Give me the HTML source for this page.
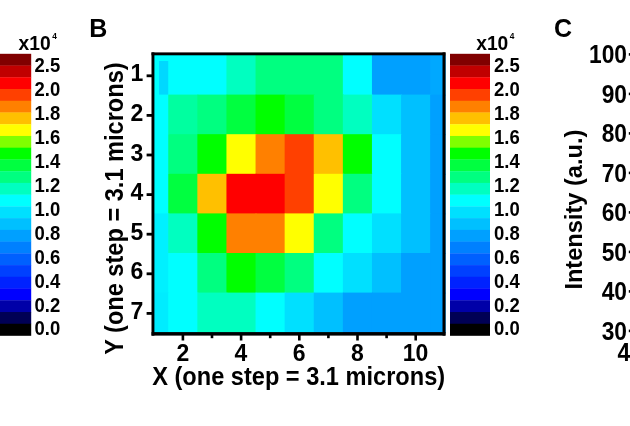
<!DOCTYPE html>
<html><head><meta charset="utf-8"><title>Figure</title>
<style>
html,body{margin:0;padding:0;background:#fff;}
body{width:630px;height:426px;overflow:hidden;}
svg{display:block;}
text{font-family:"Liberation Sans",Arial,Helvetica,sans-serif;font-weight:bold;fill:#000;}
.cb{font-size:18.5px;}
.tk{font-size:23px;}
.tc{font-size:23.6px;}
.ax{font-size:23.6px;}
.pn{font-size:25px;}
.sup{font-size:8px;}
</style></head><body>
<svg width="630" height="426" viewBox="0 0 630 426">
<defs><filter id="bl" filterUnits="userSpaceOnUse" x="-40" y="-40" width="710" height="506"><feGaussianBlur stdDeviation="0.55"/></filter></defs>
<rect x="-40" y="-40" width="710" height="506" fill="#fff"/>
<g filter="url(#bl)">
<rect x="-40" y="-40" width="710" height="506" fill="#fff"/>
<g id="cbL">
<rect x="-9" y="53.80" width="40.2" height="12.04" fill="#800000"/>
<rect x="-9" y="65.54" width="40.2" height="12.04" fill="#c00000"/>
<rect x="-9" y="77.27" width="40.2" height="12.04" fill="#ff0000"/>
<rect x="-9" y="89.01" width="40.2" height="12.04" fill="#ff4000"/>
<rect x="-9" y="100.75" width="40.2" height="12.04" fill="#ff8000"/>
<rect x="-9" y="112.49" width="40.2" height="12.04" fill="#ffc000"/>
<rect x="-9" y="124.22" width="40.2" height="12.04" fill="#ffff00"/>
<rect x="-9" y="135.96" width="40.2" height="12.04" fill="#80ff00"/>
<rect x="-9" y="147.70" width="40.2" height="12.04" fill="#00ff00"/>
<rect x="-9" y="159.44" width="40.2" height="12.04" fill="#00ff40"/>
<rect x="-9" y="171.17" width="40.2" height="12.04" fill="#00ff80"/>
<rect x="-9" y="182.91" width="40.2" height="12.04" fill="#00ffc0"/>
<rect x="-9" y="194.65" width="40.2" height="12.04" fill="#00ffff"/>
<rect x="-9" y="206.39" width="40.2" height="12.04" fill="#00e0ff"/>
<rect x="-9" y="218.12" width="40.2" height="12.04" fill="#00c0ff"/>
<rect x="-9" y="229.86" width="40.2" height="12.04" fill="#00a0ff"/>
<rect x="-9" y="241.60" width="40.2" height="12.04" fill="#0080ff"/>
<rect x="-9" y="253.34" width="40.2" height="12.04" fill="#0060ff"/>
<rect x="-9" y="265.07" width="40.2" height="12.04" fill="#0040ff"/>
<rect x="-9" y="276.81" width="40.2" height="12.04" fill="#0020ff"/>
<rect x="-9" y="288.55" width="40.2" height="12.04" fill="#0000ff"/>
<rect x="-9" y="300.29" width="40.2" height="12.04" fill="#0000a8"/>
<rect x="-9" y="312.02" width="40.2" height="12.04" fill="#000055"/>
<rect x="-9" y="323.76" width="40.2" height="12.04" fill="#000000"/>
<text transform="translate(34.5,72.00) scale(1,1.13)" class="cb">2.5</text>
<text transform="translate(34.5,95.95) scale(1,1.13)" class="cb">2.0</text>
<text transform="translate(34.5,119.90) scale(1,1.13)" class="cb">1.8</text>
<text transform="translate(34.5,143.85) scale(1,1.13)" class="cb">1.6</text>
<text transform="translate(34.5,167.80) scale(1,1.13)" class="cb">1.4</text>
<text transform="translate(34.5,191.75) scale(1,1.13)" class="cb">1.2</text>
<text transform="translate(34.5,215.70) scale(1,1.13)" class="cb">1.0</text>
<text transform="translate(34.5,239.65) scale(1,1.13)" class="cb">0.8</text>
<text transform="translate(34.5,263.60) scale(1,1.13)" class="cb">0.6</text>
<text transform="translate(34.5,287.55) scale(1,1.13)" class="cb">0.4</text>
<text transform="translate(34.5,311.50) scale(1,1.13)" class="cb">0.2</text>
<text transform="translate(34.5,335.45) scale(1,1.13)" class="cb">0.0</text>
<text transform="translate(18.6,50.4) scale(1.04,1.09)" class="cb">x10<tspan class="sup" dx="1.5" dy="-10.5">4</tspan></text>
</g>
<g id="cbR">
<rect x="450" y="53.80" width="40" height="12.04" fill="#800000"/>
<rect x="450" y="65.54" width="40" height="12.04" fill="#c00000"/>
<rect x="450" y="77.27" width="40" height="12.04" fill="#ff0000"/>
<rect x="450" y="89.01" width="40" height="12.04" fill="#ff4000"/>
<rect x="450" y="100.75" width="40" height="12.04" fill="#ff8000"/>
<rect x="450" y="112.49" width="40" height="12.04" fill="#ffc000"/>
<rect x="450" y="124.22" width="40" height="12.04" fill="#ffff00"/>
<rect x="450" y="135.96" width="40" height="12.04" fill="#80ff00"/>
<rect x="450" y="147.70" width="40" height="12.04" fill="#00ff00"/>
<rect x="450" y="159.44" width="40" height="12.04" fill="#00ff40"/>
<rect x="450" y="171.17" width="40" height="12.04" fill="#00ff80"/>
<rect x="450" y="182.91" width="40" height="12.04" fill="#00ffc0"/>
<rect x="450" y="194.65" width="40" height="12.04" fill="#00ffff"/>
<rect x="450" y="206.39" width="40" height="12.04" fill="#00e0ff"/>
<rect x="450" y="218.12" width="40" height="12.04" fill="#00c0ff"/>
<rect x="450" y="229.86" width="40" height="12.04" fill="#00a0ff"/>
<rect x="450" y="241.60" width="40" height="12.04" fill="#0080ff"/>
<rect x="450" y="253.34" width="40" height="12.04" fill="#0060ff"/>
<rect x="450" y="265.07" width="40" height="12.04" fill="#0040ff"/>
<rect x="450" y="276.81" width="40" height="12.04" fill="#0020ff"/>
<rect x="450" y="288.55" width="40" height="12.04" fill="#0000ff"/>
<rect x="450" y="300.29" width="40" height="12.04" fill="#0000a8"/>
<rect x="450" y="312.02" width="40" height="12.04" fill="#000055"/>
<rect x="450" y="323.76" width="40" height="12.04" fill="#000000"/>
<text transform="translate(494,72.00) scale(1,1.13)" class="cb">2.5</text>
<text transform="translate(494,95.95) scale(1,1.13)" class="cb">2.0</text>
<text transform="translate(494,119.90) scale(1,1.13)" class="cb">1.8</text>
<text transform="translate(494,143.85) scale(1,1.13)" class="cb">1.6</text>
<text transform="translate(494,167.80) scale(1,1.13)" class="cb">1.4</text>
<text transform="translate(494,191.75) scale(1,1.13)" class="cb">1.2</text>
<text transform="translate(494,215.70) scale(1,1.13)" class="cb">1.0</text>
<text transform="translate(494,239.65) scale(1,1.13)" class="cb">0.8</text>
<text transform="translate(494,263.60) scale(1,1.13)" class="cb">0.6</text>
<text transform="translate(494,287.55) scale(1,1.13)" class="cb">0.4</text>
<text transform="translate(494,311.50) scale(1,1.13)" class="cb">0.2</text>
<text transform="translate(494,335.45) scale(1,1.13)" class="cb">0.0</text>
<text transform="translate(476.2,50.1) scale(1.04,1.09)" class="cb">x10<tspan class="sup" dx="1.5" dy="-10.5">4</tspan></text>
</g>
<text x="89.3" y="37.2" class="pn">B</text>
<text x="554" y="37.3" class="pn">C</text>
<g id="heat">
<rect x="153.7" y="55.0" width="291.00" height="277.20" fill="#00ffff"/>
<rect x="159.00" y="61.00" width="10.25" height="34.60" fill="#00d8ff"/>
<rect x="168.25" y="55.00" width="30.10" height="40.60" fill="#00ffff"/>
<rect x="197.35" y="55.00" width="30.10" height="40.60" fill="#00ffff"/>
<rect x="226.45" y="55.00" width="30.10" height="40.60" fill="#00ffc0"/>
<rect x="255.55" y="55.00" width="30.10" height="40.60" fill="#00ff80"/>
<rect x="284.65" y="55.00" width="30.10" height="40.60" fill="#00ff80"/>
<rect x="313.75" y="55.00" width="30.10" height="40.60" fill="#00ff80"/>
<rect x="342.85" y="55.00" width="30.10" height="40.60" fill="#00ffff"/>
<rect x="371.95" y="55.00" width="30.10" height="40.60" fill="#00a0ff"/>
<rect x="401.05" y="55.00" width="30.10" height="40.60" fill="#00a0ff"/>
<rect x="430.15" y="55.00" width="15.55" height="40.60" fill="#00a8ff"/>
<rect x="153.70" y="94.60" width="15.55" height="40.60" fill="#00ffff"/>
<rect x="168.25" y="94.60" width="30.10" height="40.60" fill="#00ffa0"/>
<rect x="197.35" y="94.60" width="30.10" height="40.60" fill="#00ff80"/>
<rect x="226.45" y="94.60" width="30.10" height="40.60" fill="#00ff40"/>
<rect x="255.55" y="94.60" width="30.10" height="40.60" fill="#00ff00"/>
<rect x="284.65" y="94.60" width="30.10" height="40.60" fill="#00ff40"/>
<rect x="313.75" y="94.60" width="30.10" height="40.60" fill="#00ff80"/>
<rect x="342.85" y="94.60" width="30.10" height="40.60" fill="#00ffc0"/>
<rect x="371.95" y="94.60" width="30.10" height="40.60" fill="#00e0ff"/>
<rect x="401.05" y="94.60" width="30.10" height="40.60" fill="#00c0ff"/>
<rect x="430.15" y="94.60" width="15.55" height="40.60" fill="#00a0ff"/>
<rect x="153.70" y="134.20" width="15.55" height="40.60" fill="#00ffff"/>
<rect x="168.25" y="134.20" width="30.10" height="40.60" fill="#00ff80"/>
<rect x="197.35" y="134.20" width="30.10" height="40.60" fill="#00ff00"/>
<rect x="226.45" y="134.20" width="30.10" height="40.60" fill="#ffff00"/>
<rect x="255.55" y="134.20" width="30.10" height="40.60" fill="#ff8000"/>
<rect x="284.65" y="134.20" width="30.10" height="40.60" fill="#ff4000"/>
<rect x="313.75" y="134.20" width="30.10" height="40.60" fill="#ffc000"/>
<rect x="342.85" y="134.20" width="30.10" height="40.60" fill="#00ff00"/>
<rect x="371.95" y="134.20" width="30.10" height="40.60" fill="#00ffff"/>
<rect x="401.05" y="134.20" width="30.10" height="40.60" fill="#00c0ff"/>
<rect x="430.15" y="134.20" width="15.55" height="40.60" fill="#00a0ff"/>
<rect x="153.70" y="173.80" width="15.55" height="40.60" fill="#00ffff"/>
<rect x="168.25" y="173.80" width="30.10" height="40.60" fill="#00ff40"/>
<rect x="197.35" y="173.80" width="30.10" height="40.60" fill="#ffc000"/>
<rect x="226.45" y="173.80" width="30.10" height="40.60" fill="#ff0000"/>
<rect x="255.55" y="173.80" width="30.10" height="40.60" fill="#ff0000"/>
<rect x="284.65" y="173.80" width="30.10" height="40.60" fill="#ff4000"/>
<rect x="313.75" y="173.80" width="30.10" height="40.60" fill="#ffff00"/>
<rect x="342.85" y="173.80" width="30.10" height="40.60" fill="#00ff80"/>
<rect x="371.95" y="173.80" width="30.10" height="40.60" fill="#00ffff"/>
<rect x="401.05" y="173.80" width="30.10" height="40.60" fill="#00c0ff"/>
<rect x="430.15" y="173.80" width="15.55" height="40.60" fill="#00a0ff"/>
<rect x="153.70" y="213.40" width="15.55" height="40.60" fill="#00f0ff"/>
<rect x="168.25" y="213.40" width="30.10" height="40.60" fill="#00ffc0"/>
<rect x="197.35" y="213.40" width="30.10" height="40.60" fill="#00ff00"/>
<rect x="226.45" y="213.40" width="30.10" height="40.60" fill="#ff8000"/>
<rect x="255.55" y="213.40" width="30.10" height="40.60" fill="#ff8000"/>
<rect x="284.65" y="213.40" width="30.10" height="40.60" fill="#ffff00"/>
<rect x="313.75" y="213.40" width="30.10" height="40.60" fill="#00ff80"/>
<rect x="342.85" y="213.40" width="30.10" height="40.60" fill="#00ffff"/>
<rect x="371.95" y="213.40" width="30.10" height="40.60" fill="#00e0ff"/>
<rect x="401.05" y="213.40" width="30.10" height="40.60" fill="#00c0ff"/>
<rect x="430.15" y="213.40" width="15.55" height="40.60" fill="#00a0ff"/>
<rect x="153.70" y="253.00" width="15.55" height="40.60" fill="#00f0ff"/>
<rect x="168.25" y="253.00" width="30.10" height="40.60" fill="#00ffff"/>
<rect x="197.35" y="253.00" width="30.10" height="40.60" fill="#00ff80"/>
<rect x="226.45" y="253.00" width="30.10" height="40.60" fill="#00ff00"/>
<rect x="255.55" y="253.00" width="30.10" height="40.60" fill="#00ff40"/>
<rect x="284.65" y="253.00" width="30.10" height="40.60" fill="#00ff80"/>
<rect x="313.75" y="253.00" width="30.10" height="40.60" fill="#00ffff"/>
<rect x="342.85" y="253.00" width="30.10" height="40.60" fill="#00e0ff"/>
<rect x="371.95" y="253.00" width="30.10" height="40.60" fill="#00c0ff"/>
<rect x="401.05" y="253.00" width="30.10" height="40.60" fill="#00a0ff"/>
<rect x="430.15" y="253.00" width="15.55" height="40.60" fill="#00a0ff"/>
<rect x="153.70" y="292.60" width="15.55" height="40.60" fill="#00ecff"/>
<rect x="168.25" y="292.60" width="30.10" height="40.60" fill="#00ffff"/>
<rect x="197.35" y="292.60" width="30.10" height="40.60" fill="#00ffc0"/>
<rect x="226.45" y="292.60" width="30.10" height="40.60" fill="#00ffc0"/>
<rect x="255.55" y="292.60" width="30.10" height="40.60" fill="#00ffff"/>
<rect x="284.65" y="292.60" width="30.10" height="40.60" fill="#00e0ff"/>
<rect x="313.75" y="292.60" width="30.10" height="40.60" fill="#00c0ff"/>
<rect x="342.85" y="292.60" width="30.10" height="40.60" fill="#00a0ff"/>
<rect x="371.95" y="292.60" width="30.10" height="40.60" fill="#00a0ff"/>
<rect x="401.05" y="292.60" width="30.10" height="40.60" fill="#00a0ff"/>
<rect x="430.15" y="292.60" width="15.55" height="40.60" fill="#00a0ff"/>
<rect x="151.5" y="52.4" width="2.9" height="283.2" fill="#000"/>
<rect x="442.5" y="52.4" width="3.0" height="283.2" fill="#000"/>
<rect x="151.5" y="52.4" width="294" height="2.9" fill="#000"/>
<rect x="151.5" y="332.1" width="294" height="3.5" fill="#000"/>
<rect x="146.6" y="74.40" width="6" height="2.8" fill="#000"/>
<text transform="translate(136.8,81.40) scale(1,1.02)" class="tk" text-anchor="middle">1</text>
<rect x="146.6" y="114.00" width="6" height="2.8" fill="#000"/>
<text transform="translate(136.8,121.00) scale(1,1.02)" class="tk" text-anchor="middle">2</text>
<rect x="146.6" y="153.60" width="6" height="2.8" fill="#000"/>
<text transform="translate(136.8,160.60) scale(1,1.02)" class="tk" text-anchor="middle">3</text>
<rect x="146.6" y="193.20" width="6" height="2.8" fill="#000"/>
<text transform="translate(136.8,200.20) scale(1,1.02)" class="tk" text-anchor="middle">4</text>
<rect x="146.6" y="232.80" width="6" height="2.8" fill="#000"/>
<text transform="translate(136.8,239.80) scale(1,1.02)" class="tk" text-anchor="middle">5</text>
<rect x="146.6" y="272.40" width="6" height="2.8" fill="#000"/>
<text transform="translate(136.8,279.40) scale(1,1.02)" class="tk" text-anchor="middle">6</text>
<rect x="146.6" y="312.00" width="6" height="2.8" fill="#000"/>
<text transform="translate(136.8,319.00) scale(1,1.02)" class="tk" text-anchor="middle">7</text>
<rect x="181.60" y="335" width="2.6" height="5.5" fill="#000"/>
<text transform="translate(182.80,361.2) scale(1,1.07)" class="tk" text-anchor="middle">2</text>
<rect x="210.70" y="335" width="2.6" height="3.2" fill="#000"/>
<rect x="239.80" y="335" width="2.6" height="5.5" fill="#000"/>
<text transform="translate(241.00,361.2) scale(1,1.07)" class="tk" text-anchor="middle">4</text>
<rect x="268.90" y="335" width="2.6" height="3.2" fill="#000"/>
<rect x="298.00" y="335" width="2.6" height="5.5" fill="#000"/>
<text transform="translate(299.20,361.2) scale(1,1.07)" class="tk" text-anchor="middle">6</text>
<rect x="327.10" y="335" width="2.6" height="3.2" fill="#000"/>
<rect x="356.20" y="335" width="2.6" height="5.5" fill="#000"/>
<text transform="translate(357.40,361.2) scale(1,1.07)" class="tk" text-anchor="middle">8</text>
<rect x="385.30" y="335" width="2.6" height="3.2" fill="#000"/>
<rect x="414.40" y="335" width="2.6" height="5.5" fill="#000"/>
<text transform="translate(415.60,361.2) scale(1,1.07)" class="tk" text-anchor="middle">10</text>
</g>
<text transform="translate(123.3,354.8) rotate(-90) scale(1,1.06)" class="ax">Y (one step = 3.1 microns)</text>
<text transform="translate(152.2,385) scale(1,1.07)" class="ax">X (one step = 3.1 microns)</text>
<g id="pc">
<text transform="translate(627.0,63.30) scale(0.965,1.08)" class="tc" text-anchor="end">100</text>
<rect x="628.8" y="53.10" width="3" height="2.6" fill="#000"/>
<text transform="translate(627.0,102.80) scale(0.965,1.08)" class="tc" text-anchor="end">90</text>
<rect x="628.8" y="92.60" width="3" height="2.6" fill="#000"/>
<text transform="translate(627.0,142.30) scale(0.965,1.08)" class="tc" text-anchor="end">80</text>
<rect x="628.8" y="132.10" width="3" height="2.6" fill="#000"/>
<text transform="translate(627.0,181.80) scale(0.965,1.08)" class="tc" text-anchor="end">70</text>
<rect x="628.8" y="171.60" width="3" height="2.6" fill="#000"/>
<text transform="translate(627.0,221.30) scale(0.965,1.08)" class="tc" text-anchor="end">60</text>
<rect x="628.8" y="211.10" width="3" height="2.6" fill="#000"/>
<text transform="translate(627.0,260.80) scale(0.965,1.08)" class="tc" text-anchor="end">50</text>
<rect x="628.8" y="250.60" width="3" height="2.6" fill="#000"/>
<text transform="translate(627.0,300.30) scale(0.965,1.08)" class="tc" text-anchor="end">40</text>
<rect x="628.8" y="290.10" width="3" height="2.6" fill="#000"/>
<text transform="translate(627.0,339.80) scale(0.965,1.08)" class="tc" text-anchor="end">30</text>
<rect x="628.8" y="329.60" width="3" height="2.6" fill="#000"/>
<text transform="translate(617.6,361) scale(0.965,1.08)" class="tc">400</text>
<text transform="translate(581.8,289.6) rotate(-90) scale(1,1.05)" class="ax">Intensity (a.u.)</text>
</g>
</g>
</svg>
</body></html>
